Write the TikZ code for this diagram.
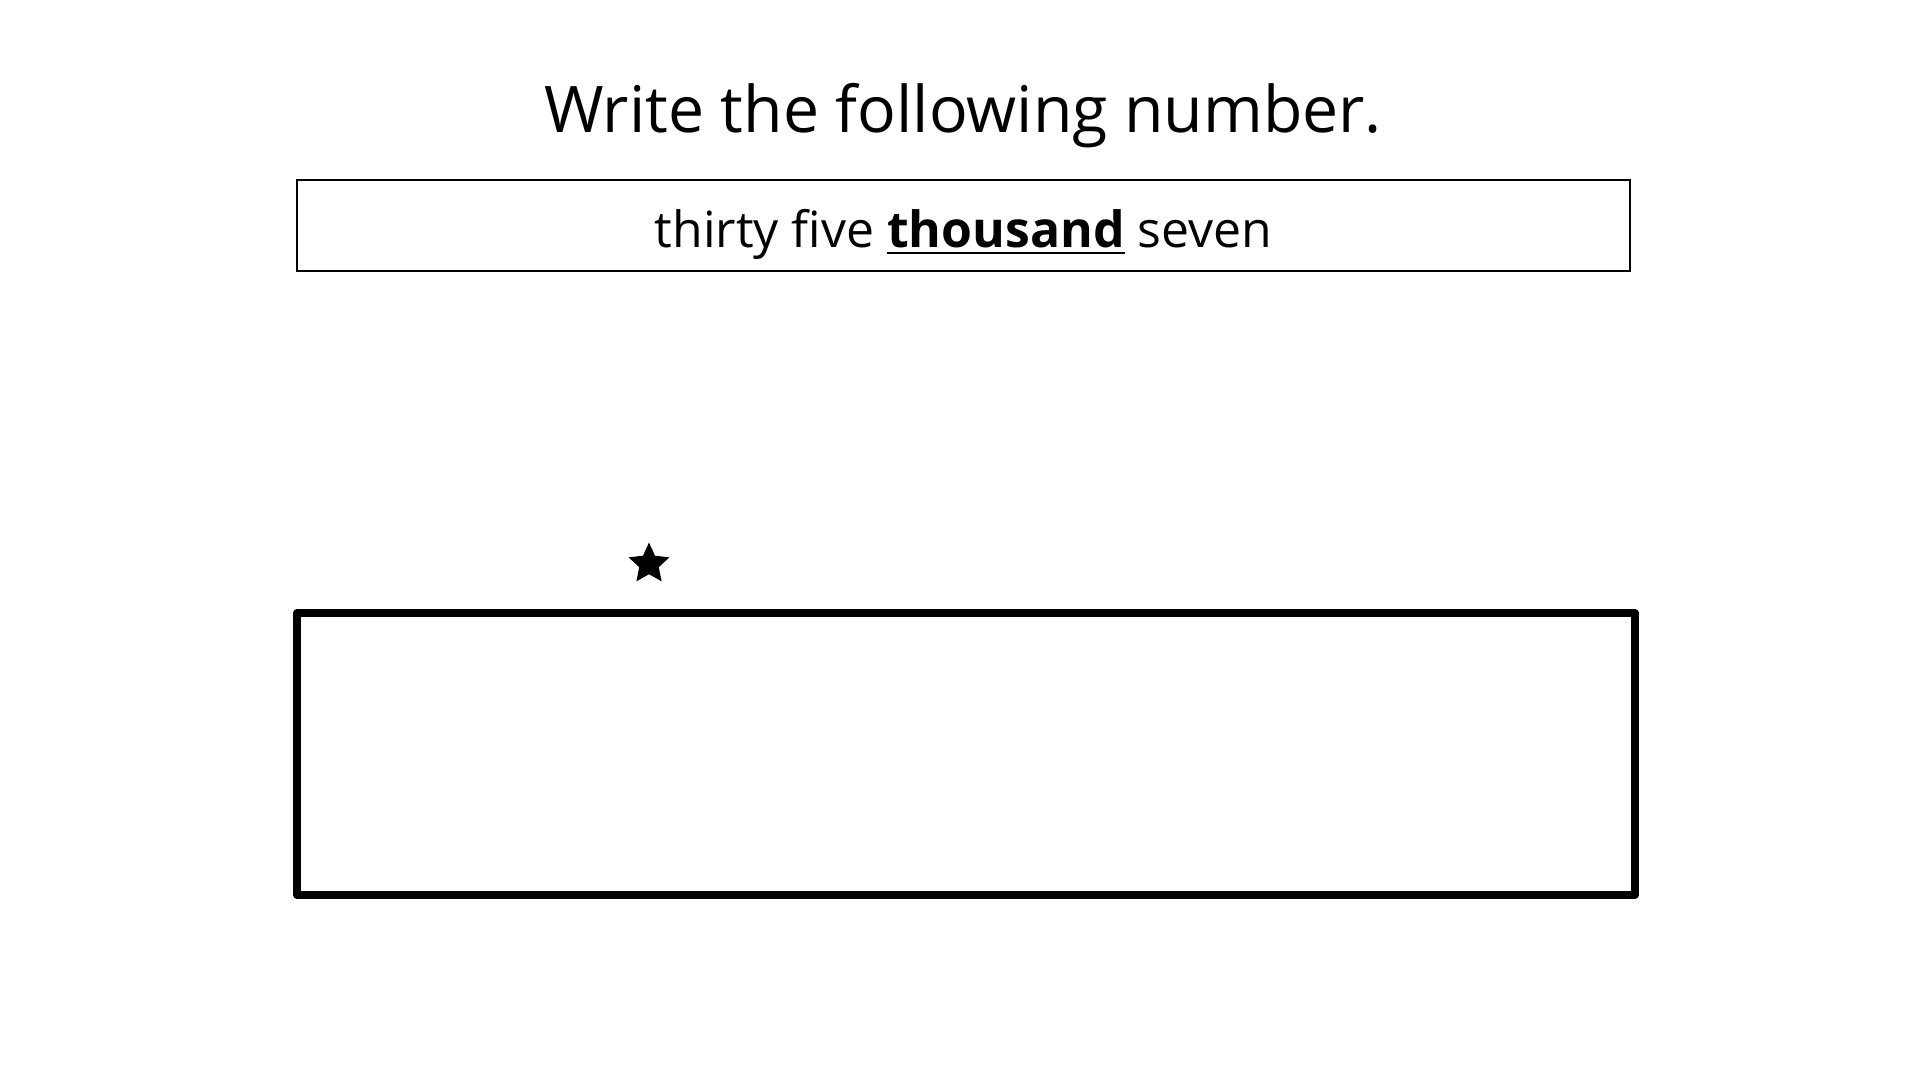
\documentclass[tikz,border=0pt]{standalone}
\usepackage{fontspec}
\setmainfont{Open Sans}
\usepackage{xcolor}
\usepackage{tikz}
\usetikzlibrary{shapes.geometric,positioning}
\definecolor{bg}{HTML}{FFFFFF}
\definecolor{ink}{HTML}{000000}
\tikzset{
  heading/.style={text=ink, font=\fontsize{18.3}{22}\selectfont, anchor=base},
  promptbox/.style={draw=ink, line width=0.8pt, minimum width=13.33cm, minimum height=0.91cm, inner sep=0pt, text height=0.44cm, text depth=0pt, font=\fontsize{14.2}{17}\selectfont},
  answerbox/.style={draw=ink, line width=2.3pt, line join=round, minimum width=13.38cm, minimum height=2.82cm, inner sep=0pt},
  starmark/.style={star, star points=5, star point ratio=2.1, fill=ink, draw=none, minimum size=0.43cm, inner sep=0pt},
}
\begin{document}
\begin{tikzpicture}
\useasboundingbox[fill=bg] (0,0) rectangle (19.2,10.8);

% question
\node[heading] (head) at (9.63,9.47) {Write the following number.};
\node[promptbox] (prompt) at (9.635,8.545) {thirty five \underline{\textbf{thousand}} seven};

% answer area
\node[starmark] (star) at (6.49,5.16) {};
\node[answerbox] (answer) at (9.66,3.26) {};
\end{tikzpicture}
\end{document}
